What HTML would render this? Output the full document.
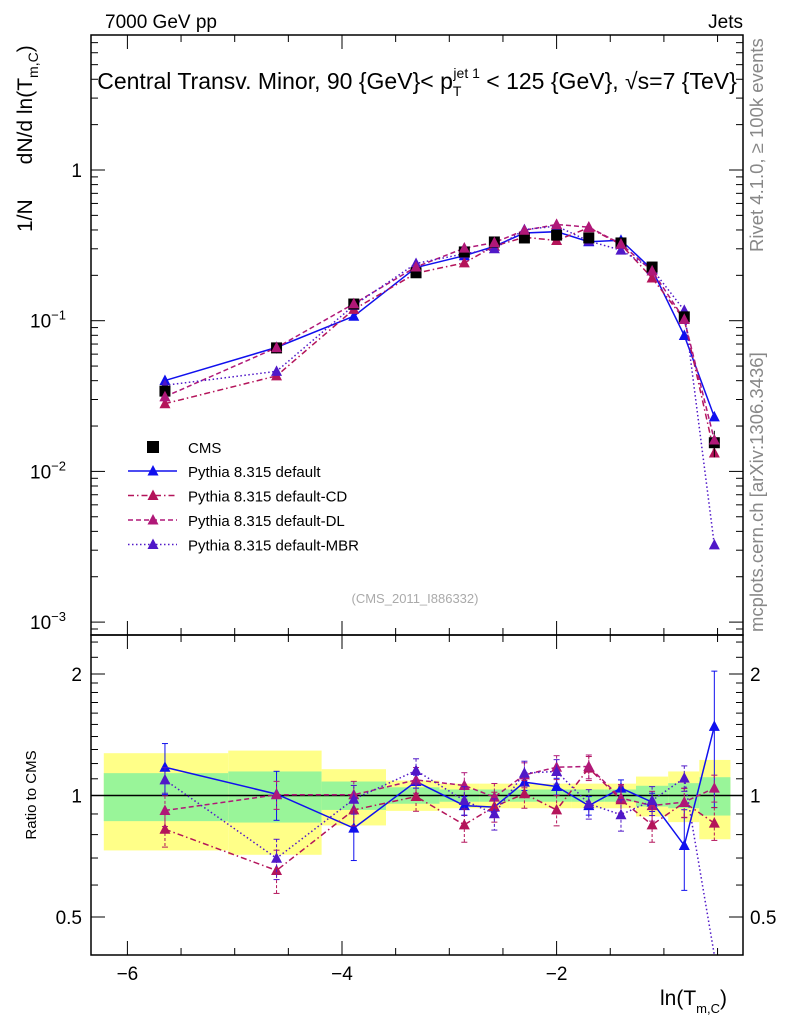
<!DOCTYPE html>
<html><head><meta charset="utf-8"><style>
html,body{margin:0;padding:0;background:#fff;}
svg{display:block;font-family:"Liberation Sans",sans-serif;}
</style></head><body>
<svg id="chart" width="786" height="1024" viewBox="0 0 786 1024" xmlns="http://www.w3.org/2000/svg">
<text x="105" y="28" font-size="19">7000 GeV pp</text>
<text x="743" y="28" font-size="19" text-anchor="end">Jets</text>
<text x="417" y="89" font-size="23" text-anchor="middle">Central Transv. Minor, 90 {GeV}&lt; p<tspan font-size="14" dy="7">T</tspan><tspan font-size="14" dy="-18" dx="-8">jet 1</tspan><tspan dy="11"> &lt; 125 {GeV}, √s=7 {TeV}</tspan></text>
<text transform="translate(32,232) rotate(-90)" font-size="21" xml:space="preserve">1/N      dN/d ln(T<tspan font-size="14" dy="6">m,C</tspan><tspan dy="-6">)</tspan></text>
<text transform="translate(763,252) rotate(-90)" font-size="18.5" fill="#888">Rivet 4.1.0, ≥ 100k events</text>
<text transform="translate(763,632) rotate(-90)" font-size="18.5" fill="#888">mcplots.cern.ch [arXiv:1306.3436]</text>
<text x="415" y="603" font-size="13" fill="#aaa" text-anchor="middle">(CMS_2011_I886332)</text>
<text transform="translate(36,795) rotate(-90)" font-size="15" text-anchor="middle">Ratio to CMS</text>
<text x="660" y="1005" font-size="21">ln(T<tspan font-size="13" dy="8">m,C</tspan><tspan dy="-8">)</tspan></text>
<g id="bands"></g><g id="grid"></g><g id="series"></g><g id="axes"></g><g id="legend"></g>
</svg>
<script>
const xVals=[-5.65,-4.61,-3.89,-3.31,-2.86,-2.58,-2.30,-2.0,-1.70,-1.40,-1.11,-0.81,-0.53];
const binEdges=[-6.22,-5.06,-4.19,-3.59,-3.09,-2.72,-2.44,-2.15,-1.86,-1.55,-1.26,-0.96,-0.67,-0.38];
const cmsVals=[0.0341,0.066,0.129,0.208,0.286,0.333,0.354,0.37,0.354,0.328,0.227,0.106,0.0155];
const cmsErr=[0.08,0.08,0.08,0.05,0.05,0.05,0.05,0.05,0.05,0.05,0.05,0.08,0.2];
const yellowHi=[1.273,1.292,1.162,1.089,1.07,1.07,1.07,1.07,1.07,1.07,1.114,1.147,1.225];
const yellowLo=[0.731,0.713,0.843,0.916,0.93,0.93,0.93,0.93,0.93,0.93,0.887,0.859,0.779];
const greenHi=[1.136,1.147,1.083,1.048,1.035,1.035,1.035,1.035,1.035,1.035,1.057,1.073,1.110];
const greenLo=[0.864,0.857,0.921,0.954,0.965,0.965,0.965,0.965,0.965,0.965,0.939,0.930,0.892];
const ratioDefault=[1.175,1.008,0.830,1.083,0.944,0.936,1.079,1.053,0.944,1.043,0.963,0.752,1.483];
const ratioCD=[0.825,0.652,0.921,0.994,0.846,0.939,1.010,0.921,1.169,0.976,0.846,0.961,0.854];
const ratioDL=[0.918,1.004,1.004,1.093,1.059,0.991,1.125,1.175,1.180,0.985,0.944,0.963,1.043];
const ratioMBR=[1.093,0.699,0.979,1.153,0.972,0.901,1.136,1.147,0.954,0.896,0.972,1.104,0.21];
const errDefault=[0.17,0.14,0.14,0.04,0.05,0.05,0.05,0.05,0.05,0.05,0.05,0.17,0.55];
const xTicks=[-6,-4,-2];
const ratioTicks=[0.5,1,2];
const mainTicks=[1,0.1,0.01,0.001];
const mainTickLabels=["1","10","10","10"];
const mainTickExp=["","−1","−2","−3"];

const L=91,R=743,T=35,MB=635,RB=955;
const NS='http://www.w3.org/2000/svg';
const X=v=>342+(v+4)*107.3;
const Y=v=>170-Math.log10(v)*150.7;
const YR=v=>795.5-Math.log10(v)*403.6;
function mk(p,tag,at){const e=document.createElementNS(NS,tag);for(const k in at)e.setAttribute(k,at[k]);document.getElementById(p).appendChild(e);return e;}

for(let i=0;i<xVals.length;i++){
 const x1=X(binEdges[i]),x2=X(binEdges[i+1]);
 let e=mk('bands','rect',{x:x1,y:YR(yellowHi[i]),width:x2-x1,height:YR(yellowLo[i])-YR(yellowHi[i]),fill:'#ffff88'});
 
 
 e=mk('bands','rect',{x:x1,y:YR(greenHi[i]),width:x2-x1,height:YR(greenLo[i])-YR(greenHi[i]),fill:'#99f599'});
 
 
}
let ref=mk('grid','line',{x1:L,x2:R,y1:YR(1),y2:YR(1),stroke:'#000','stroke-width':1.5});



let f=mk('axes','rect',{x:L,y:T,width:R-L,height:MB-T,fill:'none',stroke:'#000','stroke-width':1.5});


f=mk('axes','rect',{x:L,y:MB,width:R-L,height:RB-MB,fill:'none',stroke:'#000','stroke-width':1.5});



for(let v=-6.5;v<=-0.25;v+=0.5){
 const x=X(v); if(x<L||x>R)continue;
 const maj=Math.abs(v-Math.round(v/2)*2)<1e-6;const len=maj?14:7;
 mk('axes','line',{x1:x,x2:x,y1:RB,y2:RB-len,stroke:'#000'});
 mk('axes','line',{x1:x,x2:x,y1:MB,y2:MB-len,stroke:'#000'});
 mk('axes','line',{x1:x,x2:x,y1:T,y2:T+len,stroke:'#000'});
 mk('axes','line',{x1:x,x2:x,y1:MB,y2:MB+len,stroke:'#000'});
}
xTicks.forEach(v=>{const t=mk('axes','text',{x:X(v),y:980,'font-size':19,'text-anchor':'middle'});t.textContent='−'+Math.abs(v);
 
 });

for(let d=-4;d<=0;d++){for(let m=1;m<10;m++){const v=m*Math.pow(10,d);const y=Y(v);if(y<T||y>MB)continue;const len=m==1?14:7;
 mk('axes','line',{x1:L,x2:L+len,y1:y,y2:y,stroke:'#000'});mk('axes','line',{x1:R,x2:R-len,y1:y,y2:y,stroke:'#000'});}}
mainTicks.forEach((v,i)=>{const t=mk('axes','text',{x:82,y:Y(v)+7,'font-size':19,'text-anchor':'end'});
 t.textContent=mainTickLabels[i];
 if(mainTickExp[i]){t.setAttribute('x',66);const s=document.createElementNS(NS,'tspan');s.setAttribute('font-size',13);s.setAttribute('dy',-8);s.textContent=mainTickExp[i];t.appendChild(s);}
 
 });

[0.5,0.6,0.7,0.8,0.9,1,1.1,1.2,1.3,1.4,1.5,1.6,1.7,1.8,1.9,2,2.2,2.4].forEach(v=>{const y=YR(v);if(y<MB||y>RB)return;const len=(v==0.5||v==1||v==2)?14:7;
 mk('axes','line',{x1:L,x2:L+len,y1:y,y2:y,stroke:'#000'});mk('axes','line',{x1:R,x2:R-len,y1:y,y2:y,stroke:'#000'});});
ratioTicks.forEach(v=>{let t=mk('axes','text',{x:82,y:YR(v)+7,'font-size':19,'text-anchor':'end'});t.textContent=String(v);
 
 
 t=mk('axes','text',{x:750,y:YR(v)+7,'font-size':19});t.textContent=String(v);
 
 });

const series=[
 {name:'default',r:ratioDefault,c:'#1010ee',dash:'',err:errDefault},
 {name:'default-cd',r:ratioCD,c:'#b4145a',dash:'6,3,1.5,3',err:null},
 {name:'default-dl',r:ratioDL,c:'#b01878',dash:'5,3',err:null},
 {name:'default-mbr',r:ratioMBR,c:'#5018c8',dash:'1.5,2.5',err:null}];
function tri(g,x,y,c,name){const e=mk(g,'path',{d:`M${x},${y-6}L${x+5.5},${y+4.5}L${x-5.5},${y+4.5}Z`,fill:c});
 
 }
function clipY(y,lo,hi){return Math.max(lo,Math.min(hi,y));}
series.forEach(s=>{
 const mainPts=xVals.map((x,i)=>[X(x),clipY(Y(cmsVals[i]*s.r[i]),T,MB)]);
 const ratPts=xVals.map((x,i)=>[X(x),clipY(YR(s.r[i]),MB,RB)]);
 let p=mk('series','polyline',{points:mainPts.map(q=>q.join(',')).join(' '),fill:'none',stroke:s.c,'stroke-width':1.5,'stroke-dasharray':s.dash});
 
 
 p=mk('series','polyline',{points:ratPts.map(q=>q.join(',')).join(' '),fill:'none',stroke:s.c,'stroke-width':1.5,'stroke-dasharray':s.dash});
 
 
 xVals.forEach((x,i)=>{
  const e=s.err?s.err[i]:0.08;
  const yt=clipY(YR(s.r[i]+e),MB,RB),yb=clipY(YR(Math.max(0.3,s.r[i]-e)),MB,RB);
  mk('series','line',{x1:X(x),x2:X(x),y1:yt,y2:yb,stroke:s.c,'stroke-dasharray':s.dash?'3,2':''});
  mk('series','line',{x1:X(x)-3,x2:X(x)+3,y1:yt,y2:yt,stroke:s.c});mk('series','line',{x1:X(x)-3,x2:X(x)+3,y1:yb,y2:yb,stroke:s.c});
  if(s.r[i]>0.42){tri('series',X(x),YR(s.r[i]),s.c,'ratio-marker-'+s.name);}
  const my=Y(cmsVals[i]*s.r[i]);if(my<MB)tri('series',X(x),my,s.c,'main-marker-'+s.name);
 });
});
xVals.forEach((x,i)=>{const y=Y(cmsVals[i]);const e=cmsErr[i];
 mk('series','line',{x1:X(x),x2:X(x),y1:Y(cmsVals[i]*(1+e)),y2:Y(cmsVals[i]*(1-e)),stroke:'#000'});
 const r=mk('series','rect',{x:X(x)-5.5,y:y-5.5,width:11,height:11,fill:'#000'});
 
 
 tri('series',X(x),Y(cmsVals[i]*ratioDL[i]),'#b01878','main-marker-default-dl');
});

const legNames=['Pythia 8.315 default','Pythia 8.315 default-CD','Pythia 8.315 default-DL','Pythia 8.315 default-MBR'];
let sq=mk('legend','rect',{x:147,y:441,width:12,height:12,fill:'#000'});


let lt=mk('legend','text',{x:188,y:453,'font-size':15});lt.textContent='CMS';


series.forEach((s,i)=>{const y=471+i*24.5;
 mk('legend','line',{x1:128,x2:177,y1:y,y2:y,stroke:s.c,'stroke-width':1.5,'stroke-dasharray':s.dash});
 tri('legend',153,y,s.c,'legend-marker-'+s.name);
 const t=mk('legend','text',{x:188,y:y+6,'font-size':15});t.textContent=legNames[i];
 
 });
</script>
</body></html>
